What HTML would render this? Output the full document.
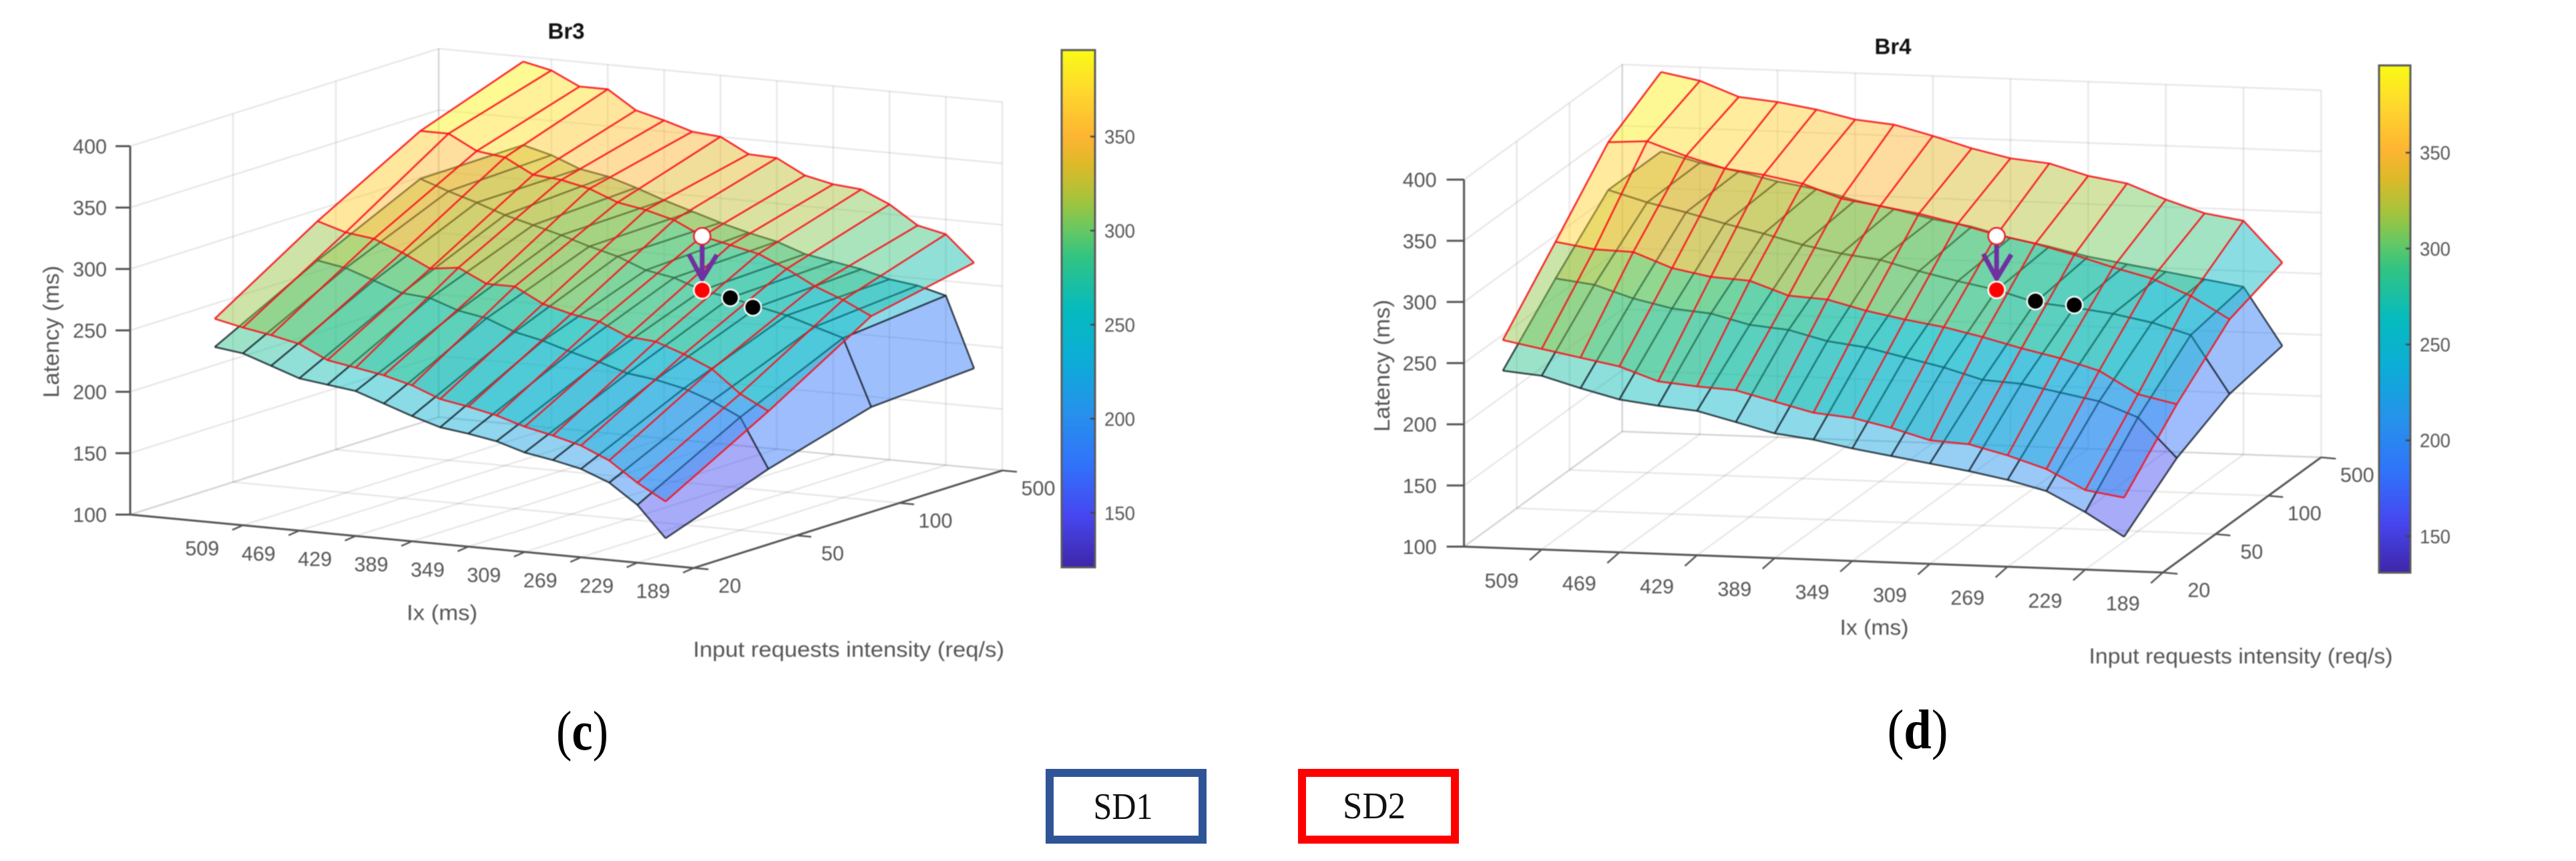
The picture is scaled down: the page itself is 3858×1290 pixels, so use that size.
<!DOCTYPE html>
<html lang="en">
<head>
<meta charset="utf-8">
<title>Latency surfaces Br3 and Br4</title>
<style>
html,body{margin:0;padding:0;background:#fff;}
svg{display:block;}
text{font-family:"Liberation Sans",sans-serif;fill:#555555;}
#panel-c,#panel-d{filter:blur(0.9px);}
</style>
</head>
<body>
<svg id="figure" xmlns="http://www.w3.org/2000/svg" width="3858" height="1290" viewBox="0 0 3858 1290">
  <rect width="3858" height="1290" fill="#ffffff"/>
  <defs id="defs"></defs>
  <g id="panel-c"></g>
  <g id="panel-d"></g>
  <text x="872" y="1123" font-size="84" text-anchor="middle" textLength="78" lengthAdjust="spacingAndGlyphs" style="font-family:'Liberation Serif',serif;fill:#000">(<tspan font-weight="700">c</tspan>)</text>
  <text x="2872" y="1121" font-size="84" text-anchor="middle" textLength="91" lengthAdjust="spacingAndGlyphs" style="font-family:'Liberation Serif',serif;fill:#000">(<tspan font-weight="700">d</tspan>)</text>
  <g>
    <rect x="1572" y="1158" width="229" height="100" fill="#fff" stroke="#2f5597" stroke-width="12"/>
    <text x="1682" y="1227" font-size="56" text-anchor="middle" textLength="89" lengthAdjust="spacingAndGlyphs" style="font-family:'Liberation Serif',serif;fill:#111">SD1</text>
    <rect x="1950" y="1158" width="229" height="100" fill="#fff" stroke="#ff0000" stroke-width="12"/>
    <text x="2058" y="1226" font-size="56" text-anchor="middle" textLength="94" lengthAdjust="spacingAndGlyphs" style="font-family:'Liberation Serif',serif;fill:#111">SD2</text>
  </g>
</svg>
<script>
// Shared categories and tick labels
const ixValues = [529,509,489,469,449,429,409,389,369,349,329,309,289,269,249,229,209];
const requestCategories = ['20','50','100','500'];
const ixTicks = [509,469,429,389,349,309,269,229,189];
const latencyTicks = [100,150,200,250,300,350,400];
const colorbarTicks = [150,200,250,300,350];

// Br3, SD1 surface (latency, ms) by request intensity
const br3Sd1Req20  = [243,240,232,224,221,218,210,202,195,192,188,181,177,172,163,147,122];
const br3Sd1Req50  = [287,283,275,267,265,257,253,244,239,232,226,219,216,211,203,192,152];
const br3Sd1Req100 = [327,319,312,304,298,292,285,279,270,266,258,254,249,244,237,230,176];
const br3Sd1Req500 = [328,322,313,309,302,294,287,280,274,269,261,257,253,247,244,238,181];
// Br3, SD2 surface
const br3Sd2Req20  = [266,261,257,252,241,237,233,227,218,214,209,202,197,191,181,165,152];
const br3Sd2Req50  = [319,312,309,300,289,292,281,281,269,263,259,249,247,239,229,211,199];
const br3Sd2Req100 = [366,366,354,351,339,337,332,323,319,313,302,297,292,282,270,261,250];
const br3Sd2Req500 = [396,391,380,380,365,359,352,350,338,337,325,320,318,308,293,288,267];
// Br4, SD1 surface
const br4Sd1Req20  = [245,242,233,225,221,218,210,202,198,192,187,182,177,171,163,147,128];
const br4Sd1Req50  = [289,285,275,268,265,257,254,246,242,235,228,219,217,211,205,193,161];
const br4Sd1Req100 = [330,321,314,306,299,291,285,281,273,266,260,251,248,244,238,229,182];
const br4Sd1Req500 = [330,322,316,309,304,296,290,283,278,270,264,257,252,247,242,237,190];
// Br4, SD2 surface
const br4Sd2Req20  = [270,264,258,252,241,238,236,228,220,217,210,201,199,191,181,165,160];
const br4Sd2Req50  = [319,314,313,301,295,293,282,280,272,266,261,254,246,239,230,212,205];
const br4Sd2Req100 = [369,371,360,351,347,341,330,325,320,313,305,299,291,282,274,261,243];
const br4Sd2Req500 = [395,389,377,374,369,362,359,351,342,335,332,323,318,306,296,291,258];

// Highlighted operating points: column index, request index, latency
const br3MarkerCols = [10,10,11,11.8];
const br3MarkerReqs = [2,2,2,2];
const br3MarkerLatency = [302,258,254,248];
const br4MarkerCols = [10,10,11,12];
const br4MarkerReqs = [2,2,2,2];
const br4MarkerLatency = [304,260,252,250];
const markerFills = ['#ffffff','#ff0000','#000000','#000000'];
const markerStrokes = ['#e8202a','#ffffff','#ffffff','#ffffff'];

// Parula-like colour map
const mapPositions = [0,.1,.2,.3,.4,.5,.6,.65,.71,.78,.833,.92,1];
const mapReds   = [62,70,48,38,12,5,50,100,165,222,253,254,249];
const mapGreens = [38,70,115,145,172,187,195,200,195,185,180,215,251];
const mapBlues  = [168,240,250,235,215,190,130,100,60,40,50,45,21];

const NS = 'http://www.w3.org/2000/svg';
function add(parent, tag, attrs, txt) {
  const n = document.createElementNS(NS, tag);
  for (const k in attrs) n.setAttribute(k, attrs[k]);
  if (txt !== undefined) n.textContent = txt;
  parent.appendChild(n);
  return n;
}
function colorAt(t) {
  t = Math.max(0, Math.min(1, t));
  let i = 0;
  while (i < mapPositions.length - 2 && t > mapPositions[i + 1]) i++;
  const f = (t - mapPositions[i]) / (mapPositions[i + 1] - mapPositions[i]);
  const mix = (a) => Math.round(a[i] + (a[i + 1] - a[i]) * f);
  return 'rgb(' + mix(mapReds) + ',' + mix(mapGreens) + ',' + mix(mapBlues) + ')';
}

function drawPanel(cfg) {
  const g = document.getElementById(cfg.id);
  const P = (ix, req, lat) => {
    const u = (cfg.xHi - ix) / 40;
    return [cfg.ox + u * cfg.exx + req * cfg.eyx, cfg.oy + u * cfg.exy + req * cfg.eyy - (lat - 100) * cfg.ez];
  };
  const colP = (col, req, lat) => P(ixValues[0] + (ixValues[1] - ixValues[0]) * col, req, lat);
  const xLo = ixTicks[ixTicks.length - 1];
  const lastReq = requestCategories.length - 1;
  const zMin = latencyTicks[0], zMax = latencyTicks[latencyTicks.length - 1];

  // Grid
  const gridGroup = add(g, 'g', {stroke:'rgba(0,0,0,0.09)', 'stroke-width':2.5, fill:'none'});
  
  
  const gridSegs = [];
  latencyTicks.forEach(z => {
    gridSegs.push([P(cfg.xHi,0,z), P(cfg.xHi,lastReq,z)]);
    gridSegs.push([P(cfg.xHi,lastReq,z), P(xLo,lastReq,z)]);
  });
  requestCategories.forEach((c, i) => {
    gridSegs.push([P(cfg.xHi,i,zMin), P(cfg.xHi,i,zMax)]);
    gridSegs.push([P(cfg.xHi,i,zMin), P(xLo,i,zMin)]);
  });
  [cfg.xHi].concat(ixTicks).forEach(x => {
    gridSegs.push([P(x,lastReq,zMin), P(x,lastReq,zMax)]);
    gridSegs.push([P(x,0,zMin), P(x,lastReq,zMin)]);
  });
  gridSegs.forEach(s => {
    const l = add(gridGroup, 'line', {x1:s[0][0], y1:s[0][1], x2:s[1][0], y2:s[1][1]});
    
    
  });

  // Surfaces
  function drawSurface(rows, edge, name) {
    const sg = add(g, 'g', {});
    
    
    for (let r = rows.length - 2; r >= 0; r--) {
      for (let c = 0; c < ixValues.length - 1; c++) {
        const q = [colP(c,r,rows[r][c]), colP(c+1,r,rows[r][c+1]), colP(c+1,r+1,rows[r+1][c+1]), colP(c,r+1,rows[r+1][c])];
        const t = (rows[r+1][c+1] - cfg.cMin) / (cfg.cMax - cfg.cMin);
        const f = add(sg, 'polygon', {points:q.map(p => p.join(',')).join(' '), fill:colorAt(t), 'fill-opacity':0.47});
        
        
      }
    }
    rows.forEach((row, r) => {
      const pts = row.map((v, c) => colP(c, r, v).join(',')).join(' ');
      const l = add(sg, 'polyline', {points:pts, fill:'none', stroke:edge, 'stroke-width':2.6, 'stroke-linejoin':'round'});
      
      
    });
    ixValues.forEach((x, c) => {
      const pts = rows.map((row, r) => colP(c, r, row[c]).join(',')).join(' ');
      const l = add(sg, 'polyline', {points:pts, fill:'none', stroke:edge, 'stroke-width':2.6, 'stroke-linejoin':'round'});
      
      
    });
  }
  drawSurface(cfg.sd1, 'rgba(15,25,35,0.8)', 'surface-sd1');
  drawSurface(cfg.sd2, 'rgba(250,15,25,0.9)', 'surface-sd2');

  // Axes
  const axisLines = [
    [P(cfg.xHi,0,zMin), P(cfg.xHi,0,zMax), 'latency-axis-line'],
    [P(cfg.xHi,0,zMin), P(xLo,0,zMin), 'ix-axis-line'],
    [P(xLo,0,zMin), P(xLo,lastReq,zMin), 'request-axis-line']
  ];
  axisLines.forEach(a => {
    const l = add(g, 'line', {x1:a[0][0], y1:a[0][1], x2:a[1][0], y2:a[1][1], stroke:'#555555', 'stroke-width':3});
    
    
  });
  latencyTicks.forEach(z => {
    const p = P(cfg.xHi,0,z);
    const l = add(g, 'line', {x1:p[0]-cfg.zTick, y1:p[1], x2:p[0], y2:p[1], stroke:'#555555', 'stroke-width':3});
    
    
    const t = add(g, 'text', {x:p[0]-cfg.zLabelGap, y:p[1]+11, 'font-size':30.5, 'text-anchor':'end'}, String(z));
    
    
  });
  ixTicks.forEach(x => {
    const p = P(x,0,zMin);
    const l = add(g, 'line', {x1:p[0], y1:p[1], x2:p[0]+cfg.xTickDx, y2:p[1]+cfg.xTickDy, stroke:'#555555', 'stroke-width':2.5});
    
    
    const t = add(g, 'text', {x:p[0]+cfg.xLabelDx, y:p[1]+cfg.xLabelDy+11, 'font-size':30.5, 'text-anchor':'middle'}, String(x));
    
    
  });
  requestCategories.forEach((c, i) => {
    const p = P(xLo,i,zMin);
    const l = add(g, 'line', {x1:p[0], y1:p[1], x2:p[0]+22, y2:p[1]+2, stroke:'#555555', 'stroke-width':2.5});
    
    
    const t = add(g, 'text', {x:p[0]+54, y:p[1]+26+11, 'font-size':30.5, 'text-anchor':'middle'}, c);
    
    
  });

  // Titles
  const title = add(g, 'text', {x:cfg.titleX, y:cfg.titleY+12, 'font-size':33, 'font-weight':700, 'text-anchor':'middle', style:'fill:#111'}, cfg.title);
  
  
  const ixTitle = add(g, 'text', {x:cfg.ixTitleX, y:cfg.ixTitleY+11, 'font-size':32, 'text-anchor':'middle', textLength:cfg.ixTitleW, lengthAdjust:'spacingAndGlyphs'}, 'Ix (ms)');
  
  
  const reqTitle = add(g, 'text', {x:cfg.reqTitleX, y:cfg.reqTitleY+11, 'font-size':32, 'text-anchor':'middle', textLength:cfg.reqTitleW, lengthAdjust:'spacingAndGlyphs'}, 'Input requests intensity (req/s)');
  
  
  const latTitle = add(g, 'text', {x:0, y:0, 'font-size':33, 'text-anchor':'middle', textLength:198, lengthAdjust:'spacingAndGlyphs', transform:'translate(' + (cfg.latTitleX + 11) + ' ' + cfg.latTitleY + ') rotate(-90)'}, 'Latency (ms)');
  
  

  // Operating-point markers and arrow
  const mPts = cfg.mCols.map((c, i) => colP(c, cfg.mReqs[i], cfg.mLat[i]));
  const tip = [mPts[1][0], mPts[1][1] - 17];
  const shaft = add(g, 'line', {x1:mPts[0][0], y1:mPts[0][1] + 12, x2:tip[0], y2:tip[1], stroke:'#7030a0', 'stroke-width':7});
  
  
  const head = add(g, 'polyline', {points:(tip[0]-20)+','+(tip[1]-37)+' '+tip[0]+','+tip[1]+' '+(tip[0]+22)+','+(tip[1]-36), fill:'none', stroke:'#7030a0', 'stroke-width':7});
  
  
  mPts.forEach((p, i) => {
    const m = add(g, 'circle', {cx:p[0], cy:p[1], r:12.5, fill:markerFills[i], stroke:markerStrokes[i], 'stroke-width':2.5});
    
    
  });

  // Colour bar
  const defs = document.getElementById('defs');
  const grad = add(defs, 'linearGradient', {id:cfg.id + '-cmap', x1:0, y1:1, x2:0, y2:0});
  mapPositions.forEach(pos => { add(grad, 'stop', {offset:pos, 'stop-color':colorAt(pos)}); });
  const cbY = v => cfg.cbBottom - (v - cfg.cMin) / (cfg.cMax - cfg.cMin) * (cfg.cbBottom - cfg.cbTop);
  const cb = add(g, 'rect', {x:cfg.cbX, y:cfg.cbTop, width:cfg.cbW, height:cfg.cbBottom - cfg.cbTop, fill:'url(#' + cfg.id + '-cmap)', stroke:'#5a5a5a', 'stroke-width':3});
  
  
  colorbarTicks.forEach(v => {
    const y = cbY(v);
    const l = add(g, 'line', {x1:cfg.cbX + cfg.cbW - 7, y1:y, x2:cfg.cbX + cfg.cbW, y2:y, stroke:'#444', 'stroke-width':2.5});
    
    
    const t = add(g, 'text', {x:cfg.cbX + cfg.cbW + 14, y:y + 10.5, 'font-size':29, textLength:46, lengthAdjust:'spacingAndGlyphs'}, String(v));
    
    
  });
}

drawPanel({
  id:'panel-c', title:'Br3',
  ox:195, oy:771, exx:84.4, exy:8, eyx:154, eyy:-48.7, ez:1.84, xHi:589,
  cMin:121, cMax:396,
  sd1:[br3Sd1Req20,br3Sd1Req50,br3Sd1Req100,br3Sd1Req500],
  sd2:[br3Sd2Req20,br3Sd2Req50,br3Sd2Req100,br3Sd2Req500],
  mCols:br3MarkerCols, mReqs:br3MarkerReqs, mLat:br3MarkerLatency,
  zTick:22, zLabelGap:35, xTickDx:-16, xTickDy:7, xLabelDx:-61, xLabelDy:34,
  titleX:848, titleY:46,
  ixTitleX:662, ixTitleY:918, ixTitleW:106,
  reqTitleX:1271, reqTitleY:973, reqTitleW:466,
  latTitleX:77, latTitleY:497,
  cbX:1590, cbW:50, cbTop:75, cbBottom:850
});
drawPanel({
  id:'panel-d', title:'Br4',
  ox:2192.6, oy:819, exx:116.3, exy:4.3, eyx:79, eyy:-57.5, ez:1.833, xHi:549,
  cMin:131, cMax:395.5,
  sd1:[br4Sd1Req20,br4Sd1Req50,br4Sd1Req100,br4Sd1Req500],
  sd2:[br4Sd2Req20,br4Sd2Req50,br4Sd2Req100,br4Sd2Req500],
  mCols:br4MarkerCols, mReqs:br4MarkerReqs, mLat:br4MarkerLatency,
  zTick:26, zLabelGap:41, xTickDx:-18, xTickDy:16, xLabelDx:-60, xLabelDy:46,
  titleX:2835, titleY:69,
  ixTitleX:2807, ixTitleY:940, ixTitleW:103,
  reqTitleX:3356, reqTitleY:983, reqTitleW:455,
  latTitleX:2070, latTitleY:548,
  cbX:3563, cbW:47, cbTop:98, cbBottom:858
});
</script>
</body>
</html>
